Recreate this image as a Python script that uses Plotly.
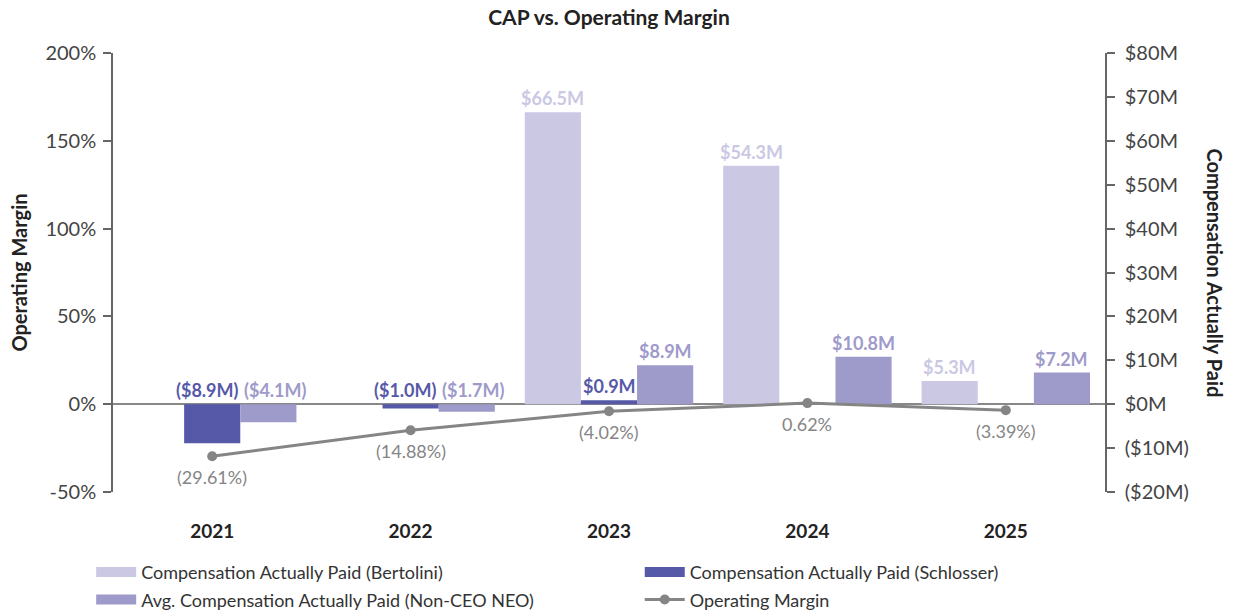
import plotly.graph_objects as go

years = ["2021", "2022", "2023", "2024", "2025"]
bertolini = [None, None, 66.5, 54.3, 5.3]
schlosser = [-8.9, -1.0, 0.9, None, None]
non_ceo = [-4.1, -1.7, 8.9, 10.8, 7.2]
op_margin = [-29.61, -14.88, -4.02, 0.62, -3.39]

names = [
    "Compensation Actually Paid (Bertolini)",
    "Compensation Actually Paid (Schlosser)",
    "Avg. Compensation Actually Paid (Non-CEO NEO)",
    "Operating Margin",
]
c_bert = "#CBC8E4"
c_sch = "#5659A7"
c_non = "#9E9ACA"
c_line = "#858585"
FONT = "Lato, 'Open Sans', sans-serif"

xs = list(range(len(years)))
W = 0.283
offsets = [-1.5 * W, -0.5 * W, 0.5 * W]


def fmt_m(v):
    return f"(${abs(v):.1f}M)" if v < 0 else f"${v:.1f}M"


def fmt_p(v):
    return f"({abs(v):.2f}%)" if v < 0 else f"{v:.2f}%"


fig = go.Figure()
annotations = []

series = [(bertolini, c_bert), (schlosser, c_sch), (non_ceo, c_non)]
for si, ((vals, col), off) in enumerate(zip(series, offsets)):
    fig.add_trace(go.Bar(
        x=xs, y=vals, width=W, offset=off, marker=dict(color=col, line=dict(width=0)),
        showlegend=False, yaxis="y", hoverinfo="skip",
    ))
    for i, v in enumerate(vals):
        if v is None:
            continue
        # push apart labels that sit side by side on the zero line
        shift = 0
        if v < 0:
            left = series[si - 1][0][i] if si > 0 else None
            right = series[si + 1][0][i] if si < len(series) - 1 else None
            if right is not None and right <= 0:
                shift = -5
            elif left is not None and left <= 0:
                shift = 7
        annotations.append(dict(
            x=i + off + W / 2, y=max(v, 0), xref="x", yref="y",
            text=f"<b>{fmt_m(v)}</b>", showarrow=False, xanchor="center",
            yanchor="bottom", xshift=shift, yshift=1,
            font=dict(family=FONT, size=18, color=col),
        ))

fig.add_trace(go.Scatter(
    x=xs, y=op_margin, mode="lines+markers",
    line=dict(color=c_line, width=3), marker=dict(color=c_line, size=10),
    showlegend=False, yaxis="y2", cliponaxis=False,
))
for i, v in enumerate(op_margin):
    annotations.append(dict(
        x=i, y=v, xref="x", yref="y2", text=fmt_p(v), showarrow=False,
        xanchor="center", yanchor="middle", yshift=-21,
        font=dict(family=FONT, size=18, color=c_line),
    ))

# legend entries
legend_items = [(names[0], c_bert, "bar", "legend"), (names[2], c_non, "bar", "legend"),
                (names[1], c_sch, "bar", "legend2"), (names[3], c_line, "line", "legend2")]
for k, (nm, col, kind, lg) in enumerate(legend_items):
    if kind == "bar":
        fig.add_trace(go.Scatter(x=[None], y=[None], mode="lines", name=nm, legend=lg,
                                 legendgroup=f"g{k}",
                                 line=dict(color=col, width=11), yaxis="y"))
    else:
        fig.add_trace(go.Scatter(x=[None], y=[None], mode="lines+markers", name=nm,
                                 legend=lg, legendgroup=f"g{k}",
                                 line=dict(color=col, width=3),
                                 marker=dict(color=col, size=10), yaxis="y2"))

axis_common = dict(
    showgrid=False, showline=True, linecolor="#666", linewidth=1.5,
    ticks="outside", ticklen=8, tickcolor="#666", tickwidth=1.5,
    tickfont=dict(family=FONT, size=20, color="#444"),
)

leg_common = dict(orientation="v", yanchor="top", y=-0.141, itemwidth=40,
                  font=dict(family=FONT, size=18, color="#333"), tracegroupgap=1,
                  bgcolor="rgba(0,0,0,0)")

annotations.append(dict(text="<b>Compensation Actually Paid</b>", textangle=90,
                        x=(1215 - 113) / 992, xref="paper", y=0.5, yref="paper",
                        xanchor="center", yanchor="middle", showarrow=False,
                        font=dict(family=FONT, size=20, color="#222")))

fig.update_layout(
    width=1233, height=612,
    margin=dict(l=113, r=128, t=53, b=120, autoexpand=False),
    plot_bgcolor="white", paper_bgcolor="white",
    font=dict(family=FONT),
    title=dict(text="<b>CAP vs. Operating Margin</b>", x=0.5, xref="paper",
               y=1 - 18 / 612, yref="container", yanchor="middle",
               font=dict(family=FONT, size=21, color="#222")),
    barmode="overlay",
    xaxis=dict(range=[-0.5, 4.5], tickvals=xs, ticktext=years, showgrid=False,
               showline=False, zeroline=False, ticks="", ticklabelstandoff=26,
               tickfont=dict(family=FONT, size=19, color="#222", weight="bold")),
    yaxis=dict(side="right", range=[-20, 80], tickvals=[-20, -10, 0, 10, 20, 30, 40, 50, 60, 70, 80],
               ticktext=["($20M)", "($10M)", "$0M", "$10M", "$20M", "$30M", "$40M",
                         "$50M", "$60M", "$70M", "$80M"],
               zeroline=True, zerolinecolor="#888", zerolinewidth=1.5,
               ticklabelstandoff=6, **axis_common),
    yaxis2=dict(side="left", overlaying="y", range=[-50, 200],
                tickvals=[-50, 0, 50, 100, 150, 200],
                ticktext=["-50%", "0%", "50%", "100%", "150%", "200%"],
                zeroline=False, ticklabelstandoff=3,
                title=dict(text="<b>Operating Margin</b>", standoff=12,
                           font=dict(family=FONT, size=20, color="#222")),
                **axis_common),
    legend=dict(x=-0.022, xanchor="left", **leg_common),
    legend2=dict(x=0.531, xanchor="left", **leg_common),
    annotations=annotations,
)

fig.write_html("out.html", config={"displayModeBar": False},
               post_script="document.body.style.margin='0';document.body.style.overflow='hidden';")
